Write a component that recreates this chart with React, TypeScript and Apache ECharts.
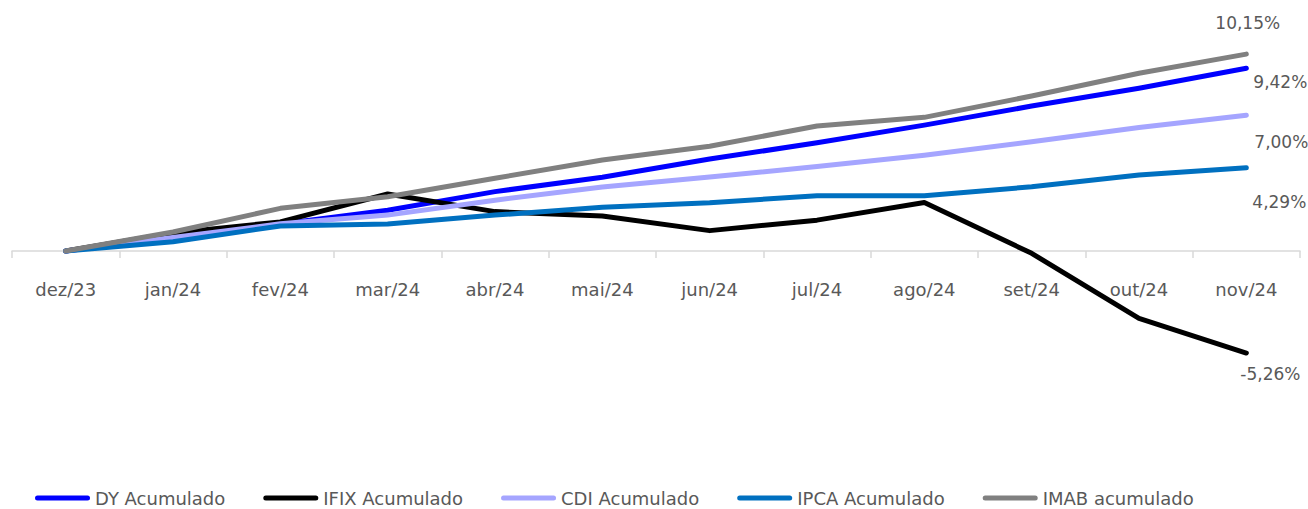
import React, { useEffect, useRef } from "react";
import * as echarts from "echarts";

// Month labels (dez/23 .. nov/24)
const months = [
  "dez/23", "jan/24", "fev/24", "mar/24", "abr/24", "mai/24",
  "jun/24", "jul/24", "ago/24", "set/24", "out/24", "nov/24",
];

// Cumulative returns, in %
const dyAcumulado = [0, 0.72, 1.39, 2.1, 3.06, 3.8, 4.74, 5.58, 6.49, 7.47, 8.39, 9.42];
const ifixAcumulado = [0, 0.93, 1.5, 2.94, 2.03, 1.8, 1.05, 1.59, 2.5, -0.12, -3.47, -5.26];
const cdiAcumulado = [0, 0.7, 1.4, 1.85, 2.62, 3.3, 3.81, 4.35, 4.94, 5.63, 6.37, 7.0];
const ipcaAcumulado = [0, 0.48, 1.29, 1.39, 1.85, 2.26, 2.49, 2.85, 2.85, 3.31, 3.92, 4.29];
const imabAcumulado = [0, 0.98, 2.2, 2.8, 3.75, 4.69, 5.4, 6.44, 6.89, 7.99, 9.16, 10.15];

const seriesNames = [
  "DY Acumulado",
  "IFIX Acumulado",
  "CDI Acumulado",
  "IPCA Acumulado",
  "IMAB acumulado",
];
const seriesColors = ["#0000ff", "#000000", "#a5a5ff", "#0070c0", "#808080"];

const FONT = "'DejaVu Sans', sans-serif";
const TEXT_COLOR = "#595959";

const fmtPct = (v: number) => v.toFixed(2).replace(".", ",") + "%";

export default function App() {
  const ref = useRef<HTMLDivElement>(null);

  useEffect(() => {
    if (!ref.current) return;
    const chart = echarts.init(ref.current, undefined, { renderer: "svg" });

    const data = [dyAcumulado, ifixAcumulado, cdiAcumulado, ipcaAcumulado, imabAcumulado];
    // end label offsets [dx, dy] relative to the last point
    const endOffsets: [number, number][] = [
      [-1, 14],
      [-14, 21],
      [0, 27],
      [-2, 34],
      [-39, -31],
    ];

    const series = data.map((values, i) => ({
      name: seriesNames[i],
      type: "line",
      data: values,
      symbol: "none",
      clip: false,
      lineStyle: { color: seriesColors[i], width: 5, cap: "round", join: "round" },
      itemStyle: { color: seriesColors[i] },
      endLabel: {
        show: true,
        formatter: (p: any) => fmtPct(p.value),
        offset: endOffsets[i],
        color: TEXT_COLOR,
        fontSize: 17,
        fontFamily: FONT,
      },
      emphasis: { disabled: true },
    }));

    chart.setOption({
      animation: false,
      backgroundColor: "#ffffff",
      // the plot box spans 0..12 %, the category axis sits on zero;
      // negative values are drawn below it (clip: false)
      grid: { left: 12, right: 8, top: 18.2, bottom: 258, containLabel: false },
      xAxis: {
        type: "category",
        data: months,
        boundaryGap: true,
        axisLine: { lineStyle: { color: "#d9d9d9", width: 1.5 } },
        axisTick: { show: true, length: 7, lineStyle: { color: "#d9d9d9", width: 1.5 } },
        axisLabel: {
          color: TEXT_COLOR,
          fontSize: 18,
          fontFamily: FONT,
          margin: 29,
        },
        splitLine: { show: false },
      },
      yAxis: {
        type: "value",
        min: 0,
        max: 12,
        show: false,
        splitLine: { show: false },
      },
      legend: {
        left: 30,
        top: 484,
        itemWidth: 55,
        itemHeight: 5,
        itemGap: 38,
        icon: "path://M2.5,0 H52.5 A2.5,2.5 0 0 1 52.5,5 H2.5 A2.5,2.5 0 0 1 2.5,0 Z",
        textStyle: { color: TEXT_COLOR, fontSize: 18, fontFamily: FONT },
        data: seriesNames.map((n, i) => ({ name: n, itemStyle: { color: seriesColors[i] } })),
        selectedMode: false,
      },
      series,
    });

    return () => chart.dispose();
  }, []);

  return (
    <div
      ref={ref}
      style={{ position: "fixed", left: 0, top: 0, width: 1308, height: 509 }}
    />
  );
}
